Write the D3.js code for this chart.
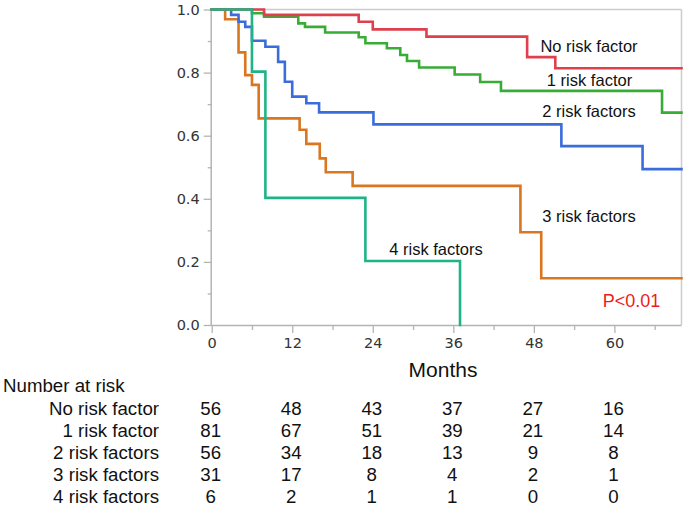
<!DOCTYPE html>
<html>
<head>
<meta charset="utf-8">
<script src="https://cdn.jsdelivr.net/npm/d3@7"></script>
<style>
  html, body { margin: 0; padding: 0; background: #fff; }
  svg { display: block; }
</style>
</head>
<body>
<svg id="chart" width="685" height="509"></svg>
<script>
// ---------- Data ----------
const groups = ["No risk factor", "1 risk factor", "2 risk factors", "3 risk factors", "4 risk factors"];

const timesNo  = [0, 7.8, 21.9, 24.0, 32.0, 47.0, 51.2, 70];
const survNo   = [1, 0.983, 0.961, 0.937, 0.914, 0.849, 0.814, 0.814];

const times1   = [0, 6.0, 7.8, 12.9, 13.9, 16.9, 21.9, 22.9, 26.1, 28.1, 29.1, 30.9, 36.2, 40.0, 43.1, 67.1, 70];
const surv1    = [1, 0.988, 0.977, 0.956, 0.945, 0.927, 0.912, 0.893, 0.877, 0.856, 0.837, 0.816, 0.794, 0.770, 0.742, 0.673, 0.673];

const times2   = [0, 2.9, 4.0, 5.0, 6.0, 8.0, 9.9, 10.9, 12.0, 14.1, 16.0, 24.1, 52.1, 64.2, 70];
const surv2    = [1, 0.983, 0.961, 0.945, 0.901, 0.882, 0.834, 0.771, 0.724, 0.703, 0.674, 0.636, 0.567, 0.494, 0.494];

const times3   = [0, 2.0, 4.0, 5.0, 6.0, 7.0, 13.1, 14.1, 16.1, 17.0, 21.0, 46.0, 49.1, 70];
const surv3    = [1, 0.969, 0.864, 0.792, 0.761, 0.655, 0.619, 0.574, 0.528, 0.484, 0.441, 0.294, 0.148, 0.148];

const times4   = [0, 6.0, 8.0, 22.9, 37.0];
const surv4    = [1, 0.803, 0.403, 0.203, 0.0];

const xTicks = [0, 12, 24, 36, 48, 60];
const yTicks = [0.0, 0.2, 0.4, 0.6, 0.8, 1.0];

const atRiskNo = [56, 48, 43, 37, 27, 16];
const atRisk1  = [81, 67, 51, 39, 21, 14];
const atRisk2  = [56, 34, 18, 13, 9, 8];
const atRisk3  = [31, 17, 8, 4, 2, 1];
const atRisk4  = [6, 2, 1, 1, 0, 0];

const colors = ["#e0404e", "#38ad36", "#3a6ddb", "#d9761f", "#1fb487"];

// ---------- Layout ----------
(function () {
const svg = d3.select("#chart");
const pLeft = 211.7, pRight = 681.5, pTop = 9.5, pBottom = 325;
const x = d3.scaleLinear().domain([0, 70]).range([pLeft, pRight]);
const y = d3.scaleLinear().domain([0, 1]).range([pBottom, pTop]);

const axisColor = "#b4b4b4";
const tickFont = "'DejaVu Sans', Verdana, sans-serif";
const labFont = "'Liberation Sans', Arial, sans-serif";

// frame (top & right)
svg.append("line").attr("x1", pLeft).attr("x2", pRight).attr("y1", pTop).attr("y2", pTop)
  .attr("stroke", "#cccccc").attr("stroke-width", 1.5);
svg.append("line").attr("x1", pRight).attr("x2", pRight).attr("y1", pTop).attr("y2", pBottom)
  .attr("stroke", "#cccccc").attr("stroke-width", 1.5);

// y axis
const yAxis = d3.axisLeft(y).tickValues(yTicks).tickFormat(d3.format(".1f")).tickSize(8).tickPadding(4);
const gy = svg.append("g").attr("transform", `translate(${pLeft},0)`).call(yAxis);
const yMinor = d3.axisLeft(y).tickValues([0.1, 0.3, 0.5, 0.7, 0.9]).tickFormat("").tickSize(4);
const gym = svg.append("g").attr("transform", `translate(${pLeft},0)`).call(yMinor);

// x axis
const xAxis = d3.axisBottom(x).tickValues(xTicks).tickSize(8).tickPadding(5);
const gx = svg.append("g").attr("transform", `translate(0,${pBottom})`).call(xAxis);
const xMinor = d3.axisBottom(x).tickValues([6, 18, 30, 42, 54, 66]).tickFormat("").tickSize(5);
const gxm = svg.append("g").attr("transform", `translate(0,${pBottom})`).call(xMinor);

[gy, gym, gx, gxm].forEach(g => {
  g.select(".domain").attr("stroke", axisColor).attr("stroke-width", 1.5);
  g.selectAll(".tick line").attr("stroke", axisColor).attr("stroke-width", 1.3);
  g.selectAll(".tick text").attr("fill", "#333").style("font-family", tickFont).style("font-size", "14.5px");
});
gym.select(".domain").remove();
gxm.select(".domain").remove();
gx.select(".domain").attr("d", `M${pLeft},0.5H${pRight}`);
gy.select(".domain").attr("d", `M-0.5,${pBottom}V${pTop}`);

// ---------- Curves ----------
const series = [
  { t: timesNo, s: survNo },
  { t: times1, s: surv1 },
  { t: times2, s: surv2 },
  { t: times3, s: surv3 },
  { t: times4, s: surv4 }
];
const line = d3.line().x(d => x(d[0])).y(d => y(d[1])).curve(d3.curveStepAfter);
const drawOrder = [3, 2, 1, 0, 4];
drawOrder.forEach(i => {
  const pts = series[i].t.map((t, j) => [t, series[i].s[j]]);
  svg.append("path").attr("d", line(pts)).attr("fill", "none")
    .attr("stroke", colors[i]).attr("stroke-width", 2.6).attr("stroke-linejoin", "miter").attr("stroke-linecap", "square");
});

// ---------- Curve labels ----------
const curveLabels = [
  { text: groups[0], cx: 589, by: 51.5 },
  { text: groups[1], cx: 589.5, by: 86 },
  { text: groups[2], cx: 589, by: 117 },
  { text: groups[3], cx: 589, by: 222 },
  { text: groups[4], cx: 436, by: 255 }
];
curveLabels.forEach(l => {
  svg.append("text").attr("x", l.cx).attr("y", l.by).attr("text-anchor", "middle")
    .style("font-family", labFont).style("font-size", "16.5px").attr("fill", "#111").text(l.text);
});
svg.append("text").attr("x", 631.5).attr("y", 306.5).attr("text-anchor", "middle")
  .style("font-family", labFont).style("font-size", "18px").attr("fill", "#ee1c1c").text("P<0.01");

// x-axis title
svg.append("text").attr("x", 443).attr("y", 376.5).attr("text-anchor", "middle")
  .style("font-family", labFont).style("font-size", "21px").attr("fill", "#111").text("Months");

// ---------- Number at risk table ----------
svg.append("text").attr("x", 3).attr("y", 391.5)
  .style("font-family", labFont).style("font-size", "18.7px").attr("fill", "#111").text("Number at risk");

const atRisk = [atRiskNo, atRisk1, atRisk2, atRisk3, atRisk4];
const rowY = d3.scaleLinear().domain([0, 4]).range([414.5, 503]);
groups.forEach((g, i) => {
  svg.append("text").attr("x", 159).attr("y", rowY(i)).attr("text-anchor", "end")
    .style("font-family", labFont).style("font-size", "18.7px").attr("fill", "#111").text(g);
  atRisk[i].forEach((v, j) => {
    svg.append("text").attr("x", x(xTicks[j]) - 1).attr("y", rowY(i)).attr("text-anchor", "middle")
      .style("font-family", labFont).style("font-size", "18.7px").attr("fill", "#111").text(v);
  });
});
})();
</script>
</body>
</html>
